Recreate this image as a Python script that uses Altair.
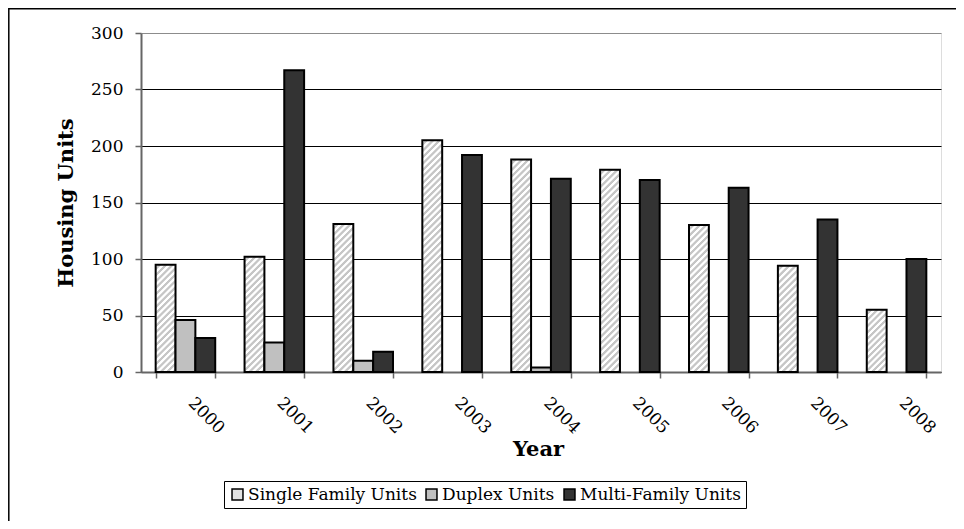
import math
import altair as alt
import pandas as pd

# ---- data ----
years = ["2000", "2001", "2002", "2003", "2004", "2005", "2006", "2007", "2008"]
single_family = [95, 102, 131, 205, 188, 179, 130, 94, 55]
duplex = [46, 26, 10, 0, 4, 0, 0, 0, 0]
multi_family = [30, 267, 18, 192, 171, 170, 163, 135, 100]
series_names = ["Single Family Units", "Duplex Units", "Multi-Family Units"]
y_ticks = [0, 50, 100, 150, 200, 250, 300]

rows = []
for i, yr in enumerate(years):
    for name, vals in zip(series_names, [single_family, duplex, multi_family]):
        rows.append({"year": yr, "series": name, "value": vals[i]})
df = pd.DataFrame(rows)

# ---- layout constants ----
PLOT_W, PLOT_H = 800, 339
Y_MAX = 300
PAD_IN = 0.33
BAR_W = PLOT_W / len(years) * (1 - PAD_IN) / 3
PX_PER_UNIT = PLOT_H / Y_MAX
FONT = "DejaVu Serif"
LABEL_SIZE = 17


def hatch(value):
    """Diagonal stripe fill (style only) sized so stripes run at 45 degrees."""
    W = BAR_W
    H = max(value * PX_PER_UNIT, 1.0)
    d = W * W + H * H
    x2 = (W + H) * W / d
    y2 = (W + H) * H / d
    n = max(1, round((W + H) / (4.6 * math.sqrt(2))))
    stops = []
    for k in range(n):
        stops += [
            {"offset": k / n, "color": "#ffffff"},
            {"offset": (k + 0.35) / n, "color": "#ffffff"},
            {"offset": (k + 0.5) / n, "color": "#c6c6c6"},
            {"offset": (k + 0.85) / n, "color": "#c6c6c6"},
        ]
    stops.append({"offset": 1, "color": "#ffffff"})
    return {"gradient": "linear", "x1": 0, "y1": 0, "x2": x2, "y2": y2, "stops": stops}


conditions = [
    {
        "test": f"datum.series === '{series_names[0]}' && datum.year === '{yr}'",
        "value": hatch(v),
    }
    for yr, v in zip(years, single_family)
]

bars = (
    alt.Chart(df)
    .transform_filter("datum.value > 0")
    .mark_bar(stroke="black", strokeWidth=2)
    .encode(
        x=alt.X(
            "year:N",
            sort=years,
            scale=alt.Scale(paddingInner=PAD_IN, paddingOuter=PAD_IN / 2),
            axis=alt.Axis(
                title="Year",
                titleFont=FONT,
                titleFontWeight="bold",
                titleFontSize=21,
                titleColor="black",
                titleX=397,
                titleY=77,
                titleBaseline="middle",
                labelAngle=45,
                labelAlign="left",
                labelBaseline="middle",
                labelFont=FONT,
                labelFontSize=LABEL_SIZE,
                labelColor="black",
                labelPadding=22,
                labelOffset=5,
                tickBand="extent",
                tickSize=6,
                tickColor="#666666",
                tickWidth=1.5,
                domainColor="#666666",
                domainWidth=2,
                grid=False,
            ),
        ),
        xOffset=alt.XOffset(
            "series:N",
            sort=series_names,
            scale=alt.Scale(domain=series_names, paddingInner=0, paddingOuter=0),
        ),
        y=alt.Y(
            "value:Q",
            scale=alt.Scale(domain=[0, Y_MAX], nice=False),
            axis=alt.Axis(
                values=y_ticks,
                title="Housing Units",
                titleFont=FONT,
                titleFontWeight="bold",
                titleFontSize=21,
                titleColor="black",
                titleX=-75,
                titleY=PLOT_H / 2,
                titleBaseline="middle",
                titleAngle=270,
                labelFont=FONT,
                labelFontSize=LABEL_SIZE,
                labelColor="black",
                labelPadding=12,
                tickSize=6,
                tickColor="#666666",
                tickWidth=1.5,
                domainColor="#666666",
                domainWidth=2,
                grid=True,
                gridColor={
                    "condition": {"test": f"datum.value === {Y_MAX}", "value": "#8c8c8c"},
                    "value": "black",
                },
                gridWidth=1,
            ),
        ),
        fill=alt.Fill(
            "series:N",
            sort=series_names,
            scale=alt.Scale(domain=series_names, range=["#e2e2e2", "#c0c0c0", "#333333"]),
            legend=alt.Legend(
                title=None,
                orient="none",
                legendX=83,
                legendY=448,
                direction="horizontal",
                strokeColor="black",
                padding=5,
                symbolType="square",
                symbolSize=120,
                symbolStrokeColor="black",
                symbolStrokeWidth=1.5,
                labelFont=FONT,
                labelFontSize=LABEL_SIZE,
                labelColor="black",
                labelLimit=400,
                labelOffset=2,
                columnPadding=6,
            ),
            condition=conditions,
        ),
    )
)

frame = (
    alt.Chart(alt.Data(values=[{"k": 1}]))
    .mark_rect(fill="transparent", stroke="black", strokeWidth=1.5)
    .encode(
        x=alt.value(-132.2),
        x2=alt.value(900),
        y=alt.value(-24.2),
        y2=alt.value(600),
    )
)

chart = (
    alt.layer(frame, bars)
    .properties(
        width=PLOT_W,
        height=PLOT_H,
        autosize=alt.AutoSizeParams(type="none"),
        padding={"left": 133, "top": 25, "right": 15, "bottom": 149},
    )
    .configure_view(stroke="#8c8c8c", strokeWidth=2)
    .configure(background="white")
)

chart.save("out.html", embed_options={"renderer": "svg", "actions": False})
